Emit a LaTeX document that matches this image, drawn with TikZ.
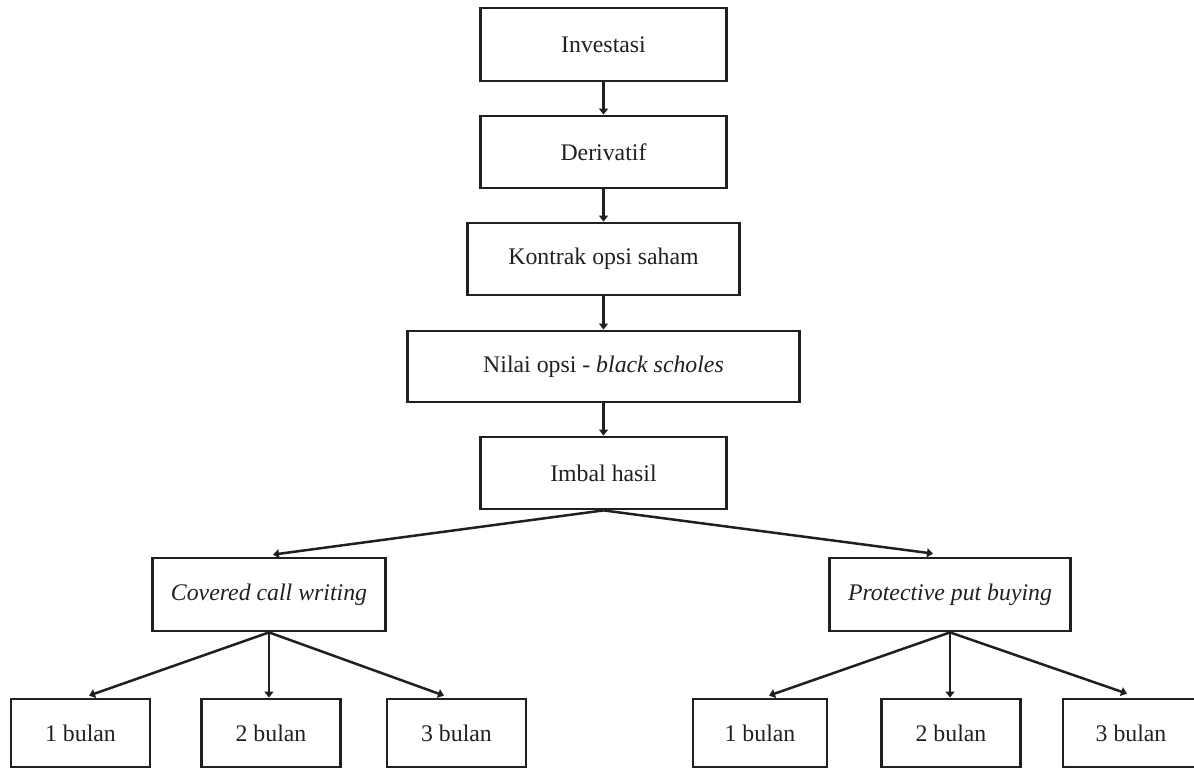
\documentclass[tikz,border=0pt]{standalone}
\usepackage{fontspec}
\setmainfont{Liberation Serif}
\usetikzlibrary{arrows.meta}
\definecolor{ink}{RGB}{35,31,32}
\begin{document}
\begin{tikzpicture}[x=0.5pt,y=-0.5pt,
  box/.style={draw=ink, text=ink, line width=1.4pt, inner sep=0pt,
    font=\fontsize{11.9}{14}\selectfont},
  arr/.style={draw=ink, line width=1.25pt, -{Triangle[length=3pt,width=4.5pt]}}]
\useasboundingbox (0,0) rectangle (1194,769);
\node[box, minimum width=123pt, minimum height=36.5pt] (inv) at (603.5,44.5) {Investasi};
\node[box, minimum width=123pt, minimum height=36pt] (der) at (603.5,152) {Derivatif};
\node[box, minimum width=136pt, minimum height=36pt] (kon) at (603.5,259) {Kontrak opsi saham};
\node[box, minimum width=196pt, minimum height=35.5pt] (nil) at (603.5,366.5) {Nilai opsi - \textit{black scholes}};
\node[box, minimum width=123pt, minimum height=36pt] (imb) at (603.5,473) {Imbal hasil};
\node[box, minimum width=116.5pt, minimum height=36.5pt] (cov) at (269,594.5) {\textit{Covered call writing}};
\node[box, minimum width=120.5pt, minimum height=36.5pt] (pro) at (950,594.5) {\textit{Protective put buying}};
\node[box, minimum width=69.5pt, minimum height=34pt] (a1) at (80.5,733) {1 bulan};
\node[box, minimum width=69.5pt, minimum height=34pt] (a2) at (271,733) {2 bulan};
\node[box, minimum width=69.5pt, minimum height=34pt] (a3) at (456.5,733) {3 bulan};
\node[box, minimum width=67pt, minimum height=34pt] (b1) at (760,733) {1 bulan};
\node[box, minimum width=69.5pt, minimum height=34pt] (b2) at (951,733) {2 bulan};
\node[box, minimum width=68pt, minimum height=34pt] (b3) at (1131,733) {3 bulan};
\draw[arr] (inv.south) -- (inv.south |- der.north);
\draw[arr] (der.south) -- (der.south |- kon.north);
\draw[arr] (kon.south) -- (kon.south |- nil.north);
\draw[arr] (nil.south) -- (nil.south |- imb.north);
\draw[arr] (imb.south) -- ([xshift=2pt,yshift=1pt]cov.north);
\draw[arr] (imb.south) -- ([xshift=-8.5pt,yshift=1.5pt]pro.north);
\draw[arr] (cov.south) -- ([xshift=4.25pt,yshift=1pt]a1.north);
\draw[arr] (cov.south) -- (cov.south |- a2.north);
\draw[arr] (cov.south) -- ([xshift=-6.25pt,yshift=1pt]a3.north);
\draw[arr] (pro.south) -- ([xshift=4.5pt,yshift=1pt]b1.north);
\draw[arr] (pro.south) -- (pro.south |- b2.north);
\draw[arr] (pro.south) -- ([xshift=-2pt,yshift=2pt]b3.north);
\end{tikzpicture}
\end{document}
